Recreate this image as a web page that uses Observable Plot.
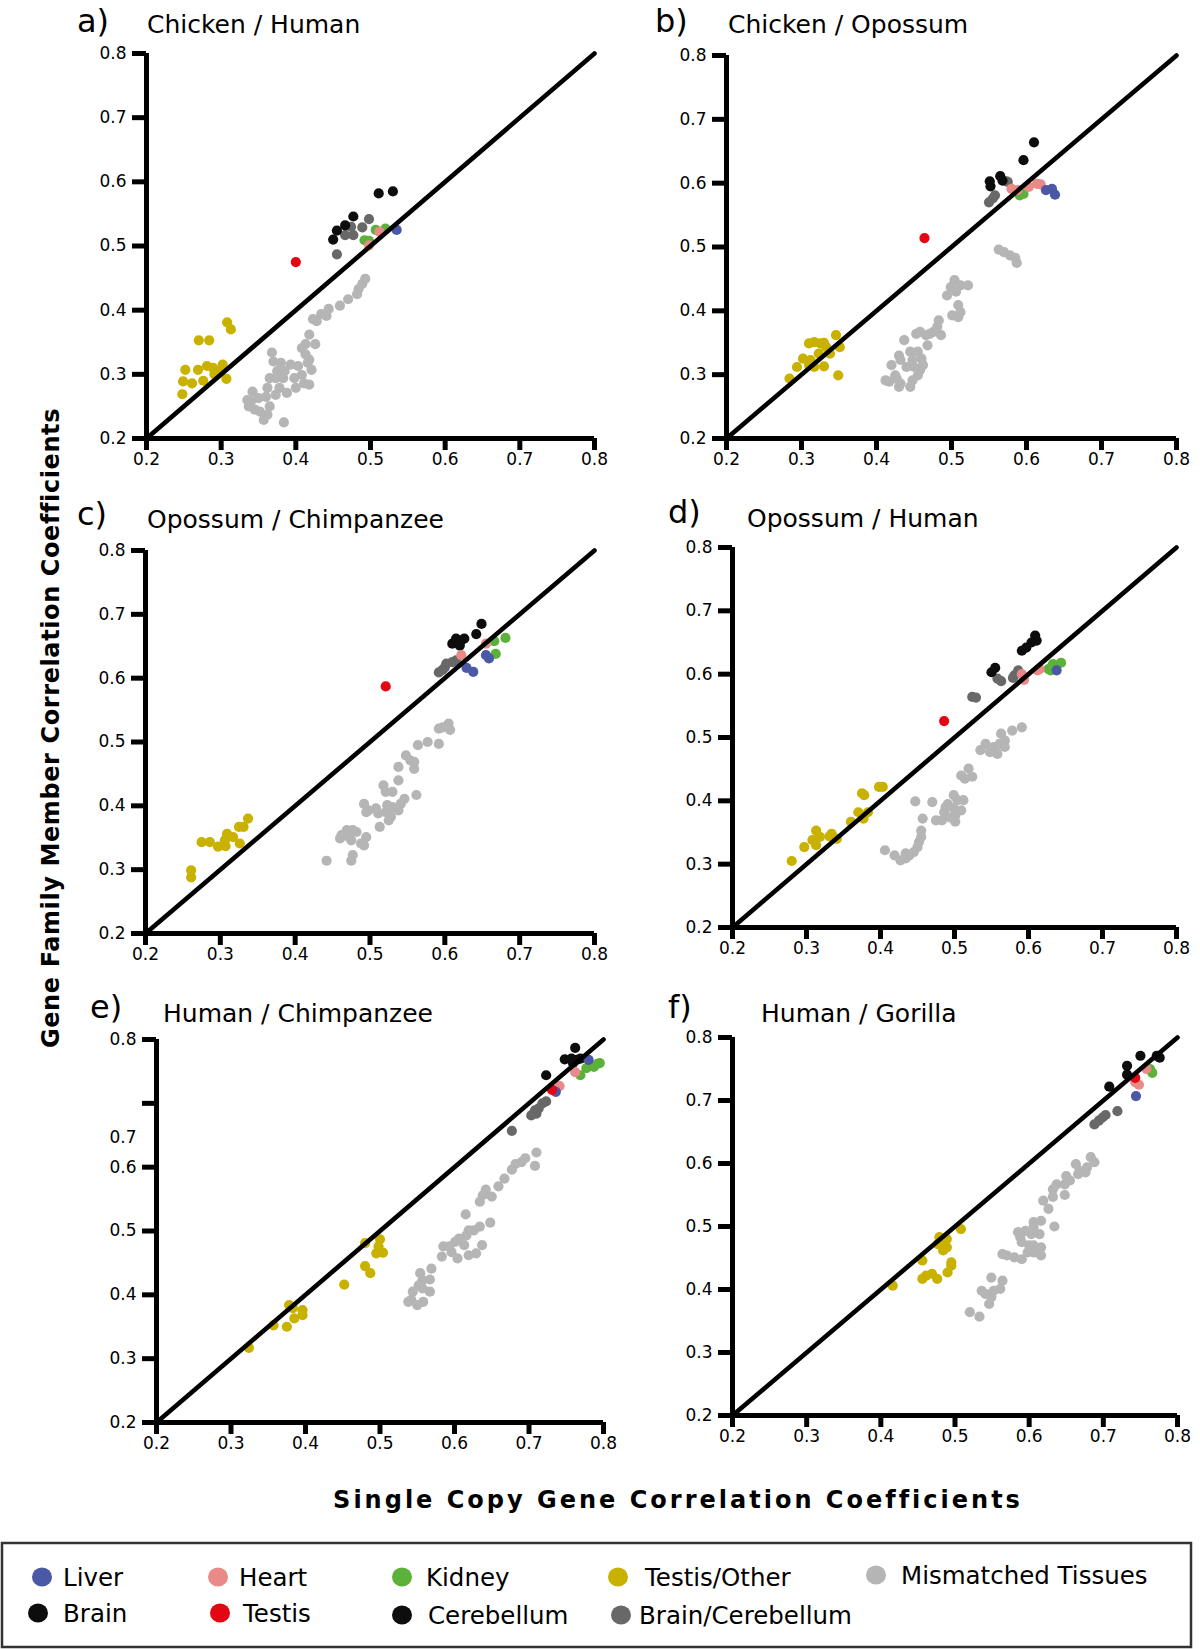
<!DOCTYPE html>
<html><head><meta charset="utf-8">
<script src="https://cdn.jsdelivr.net/npm/d3@7"></script>
<script src="https://cdn.jsdelivr.net/npm/@observablehq/plot@0.6"></script>
<style>
html,body{margin:0;padding:0;background:#fff}
body{width:1200px;height:1649px;position:relative;overflow:hidden;font-family:"DejaVu Sans",sans-serif}
svg.overlay{position:absolute;left:0;top:0}
</style></head><body>
<script>
// ---------- DATA ----------
const categories = ["Liver","Heart","Kidney","Testis/Other","Mismatched Tissues","Brain","Testis","Cerebellum","Brain/Cerebellum"];
const categoryColors = ["#4a58a6","#e98a88","#5bb13a","#c9b100","#b5b5b5","#0d0d0d","#e30613","#0d0d0d","#686868"];
const drawOrder = ["Mismatched Tissues","Testis/Other","Brain/Cerebellum","Brain","Cerebellum","Kidney","Heart","Liver","Testis"];
const axisDomain = [0.2, 0.8];
const tickValues = [0.2,0.3,0.4,0.5,0.6,0.7,0.8];
const panelLetters = ["a)","b)","c)","d)","e)","f)"];
const panelTitles = ["Chicken / Human","Chicken / Opossum","Opossum / Chimpanzee","Opossum / Human","Human / Chimpanzee","Human / Gorilla"];
// panel e: its "0.7" y label sits off its tick in the original
const eShiftedYLabels = [{value:0.646, label:"0.7"}];
const eHiddenYLabels = [0.7];

// a) Chicken / Human
const aMismatched = [[0.493,0.449],[0.489,0.441],[0.484,0.433],[0.482,0.425],[0.470,0.417],[0.459,0.407],[0.444,0.402],[0.441,0.391],[0.434,0.394],[0.428,0.383],[0.423,0.386],[0.418,0.362],[0.413,0.347],[0.426,0.347],[0.408,0.341],[0.413,0.331],[0.418,0.323],[0.421,0.307],[0.418,0.284],[0.408,0.299],[0.403,0.313],[0.398,0.294],[0.393,0.315],[0.385,0.305],[0.383,0.294],[0.380,0.318],[0.375,0.305],[0.373,0.294],[0.370,0.320],[0.368,0.334],[0.365,0.294],[0.388,0.271],[0.378,0.279],[0.373,0.268],[0.362,0.279],[0.360,0.265],[0.365,0.250],[0.362,0.237],[0.357,0.229],[0.350,0.263],[0.342,0.273],[0.340,0.258],[0.337,0.250],[0.335,0.260],[0.345,0.245],[0.352,0.242],[0.384,0.225],[0.400,0.279],[0.411,0.286],[0.416,0.318]];
const aTestisOther = [[0.308,0.381],[0.313,0.370],[0.270,0.353],[0.284,0.353],[0.252,0.307],[0.249,0.289],[0.248,0.269],[0.261,0.286],[0.269,0.307],[0.276,0.290],[0.281,0.313],[0.289,0.310],[0.296,0.305],[0.302,0.315],[0.307,0.293],[0.291,0.300]];
const aBrainCerebellum = [[0.455,0.487],[0.466,0.517],[0.474,0.530],[0.477,0.517],[0.489,0.529],[0.498,0.542]];
const aBrain = [[0.511,0.582],[0.530,0.585],[0.477,0.546],[0.455,0.524],[0.450,0.510],[0.466,0.532]];
const aKidney = [[0.492,0.509],[0.498,0.508],[0.507,0.525],[0.520,0.527]];
const aHeart = [[0.498,0.501],[0.512,0.522]];
const aLiver = [[0.535,0.525]];
const aTestis = [[0.400,0.475]];

// b) Chicken / Opossum
const bMismatched = [[0.563,0.496],[0.570,0.492],[0.578,0.487],[0.585,0.483],[0.587,0.475],[0.504,0.448],[0.499,0.437],[0.512,0.440],[0.522,0.440],[0.494,0.424],[0.506,0.430],[0.509,0.409],[0.512,0.398],[0.501,0.393],[0.509,0.390],[0.483,0.385],[0.481,0.375],[0.476,0.367],[0.486,0.362],[0.471,0.364],[0.458,0.367],[0.453,0.364],[0.466,0.362],[0.468,0.346],[0.437,0.354],[0.455,0.336],[0.445,0.336],[0.460,0.325],[0.462,0.315],[0.458,0.307],[0.455,0.299],[0.448,0.323],[0.430,0.330],[0.432,0.323],[0.440,0.312],[0.420,0.315],[0.417,0.289],[0.427,0.294],[0.425,0.299],[0.432,0.286],[0.430,0.281],[0.445,0.281],[0.448,0.291],[0.412,0.291],[0.450,0.312]];
const bTestisOther = [[0.346,0.362],[0.351,0.343],[0.310,0.349],[0.317,0.351],[0.325,0.349],[0.330,0.350],[0.338,0.333],[0.302,0.325],[0.312,0.323],[0.294,0.312],[0.310,0.315],[0.317,0.312],[0.330,0.313],[0.284,0.294],[0.349,0.299],[0.323,0.333],[0.333,0.343]];
const bBrainCerebellum = [[0.573,0.603],[0.558,0.581],[0.555,0.576],[0.550,0.570],[0.575,0.602]];
const bBrain = [[0.610,0.664],[0.596,0.636],[0.565,0.611],[0.568,0.604],[0.551,0.603],[0.552,0.595]];
const bKidney = [[0.591,0.581],[0.596,0.583]];
const bHeart = [[0.580,0.591],[0.588,0.589],[0.603,0.594],[0.619,0.598],[0.614,0.599]];
const bLiver = [[0.626,0.589],[0.634,0.591],[0.638,0.582]];
const bTestis = [[0.464,0.514]];

// c) Opossum / Chimpanzee
const cMismatched = [[0.605,0.529],[0.607,0.519],[0.592,0.521],[0.597,0.523],[0.592,0.497],[0.577,0.500],[0.564,0.495],[0.559,0.469],[0.548,0.479],[0.554,0.471],[0.559,0.458],[0.538,0.461],[0.538,0.440],[0.530,0.422],[0.518,0.432],[0.521,0.422],[0.562,0.417],[0.546,0.411],[0.541,0.403],[0.538,0.393],[0.530,0.398],[0.523,0.401],[0.521,0.390],[0.511,0.388],[0.508,0.396],[0.498,0.393],[0.492,0.403],[0.495,0.390],[0.528,0.383],[0.525,0.377],[0.513,0.367],[0.495,0.351],[0.488,0.341],[0.492,0.338],[0.477,0.362],[0.469,0.362],[0.472,0.351],[0.460,0.349],[0.475,0.346],[0.477,0.323],[0.475,0.314],[0.442,0.314],[0.462,0.354],[0.482,0.359]];
const cTestisOther = [[0.337,0.380],[0.331,0.367],[0.325,0.367],[0.326,0.341],[0.309,0.356],[0.306,0.346],[0.307,0.337],[0.297,0.336],[0.286,0.343],[0.275,0.343],[0.261,0.299],[0.261,0.288],[0.317,0.351]];
const cBrainCerebellum = [[0.592,0.609],[0.600,0.617],[0.602,0.623],[0.610,0.625],[0.615,0.628],[0.597,0.613]];
const cBrain = [[0.649,0.685],[0.642,0.669],[0.615,0.662],[0.610,0.654],[0.622,0.659],[0.626,0.662],[0.620,0.651]];
const cKidney = [[0.666,0.658],[0.681,0.663],[0.668,0.638]];
const cHeart = [[0.622,0.636],[0.655,0.654]];
const cLiver = [[0.629,0.616],[0.638,0.610],[0.655,0.636],[0.659,0.631]];
const cTestis = [[0.521,0.587]];

// d) Opossum / Human
const dMismatched = [[0.591,0.516],[0.578,0.511],[0.563,0.506],[0.568,0.495],[0.561,0.490],[0.568,0.485],[0.553,0.485],[0.542,0.490],[0.535,0.480],[0.558,0.474],[0.548,0.477],[0.519,0.451],[0.524,0.438],[0.509,0.440],[0.514,0.435],[0.512,0.401],[0.499,0.409],[0.504,0.401],[0.491,0.395],[0.499,0.388],[0.509,0.385],[0.501,0.377],[0.494,0.374],[0.501,0.367],[0.486,0.382],[0.475,0.369],[0.483,0.369],[0.470,0.398],[0.488,0.390],[0.447,0.399],[0.457,0.372],[0.455,0.353],[0.455,0.343],[0.452,0.335],[0.450,0.327],[0.445,0.319],[0.439,0.314],[0.434,0.309],[0.427,0.306],[0.419,0.314],[0.406,0.322],[0.434,0.317]];
const dTestisOther = [[0.403,0.422],[0.398,0.422],[0.375,0.412],[0.378,0.409],[0.370,0.382],[0.383,0.382],[0.377,0.372],[0.360,0.367],[0.334,0.348],[0.331,0.344],[0.341,0.340],[0.313,0.353],[0.308,0.338],[0.318,0.343],[0.313,0.330],[0.297,0.327],[0.280,0.305]];
const dBrainCerebellum = [[0.586,0.606],[0.581,0.598],[0.579,0.594],[0.558,0.593],[0.563,0.589],[0.524,0.564],[0.529,0.563]];
const dBrain = [[0.609,0.661],[0.611,0.653],[0.604,0.650],[0.597,0.642],[0.591,0.637],[0.555,0.610],[0.550,0.603]];
const dKidney = [[0.627,0.608],[0.633,0.616],[0.638,0.614],[0.644,0.618],[0.630,0.606]];
const dHeart = [[0.591,0.600],[0.594,0.591],[0.615,0.608],[0.612,0.606]];
const dLiver = [[0.638,0.606]];
const dTestis = [[0.486,0.526]];

// e) Human / Chimpanzee
const eMismatched = [[0.710,0.623],[0.708,0.602],[0.695,0.614],[0.690,0.608],[0.682,0.605],[0.677,0.596],[0.667,0.582],[0.659,0.570],[0.650,0.554],[0.642,0.565],[0.638,0.556],[0.634,0.546],[0.615,0.526],[0.648,0.513],[0.634,0.507],[0.626,0.501],[0.619,0.501],[0.616,0.493],[0.606,0.488],[0.601,0.483],[0.593,0.476],[0.585,0.476],[0.596,0.467],[0.604,0.457],[0.583,0.460],[0.613,0.478],[0.629,0.465],[0.637,0.478],[0.619,0.462],[0.569,0.441],[0.554,0.434],[0.567,0.424],[0.557,0.423],[0.552,0.415],[0.567,0.405],[0.557,0.410],[0.544,0.405],[0.542,0.392],[0.538,0.389],[0.550,0.384],[0.558,0.389]];
const eTestisOther = [[0.500,0.487],[0.498,0.476],[0.504,0.466],[0.495,0.465],[0.480,0.481],[0.480,0.445],[0.487,0.434],[0.452,0.416],[0.396,0.376],[0.396,0.368],[0.385,0.363],[0.378,0.384],[0.375,0.350],[0.357,0.352],[0.324,0.317],[0.383,0.379]];
const eBrainCerebellum = [[0.677,0.657],[0.703,0.681],[0.710,0.684],[0.713,0.692],[0.718,0.700],[0.723,0.703],[0.708,0.689]];
const eBrain = [[0.762,0.787],[0.748,0.769],[0.757,0.770],[0.764,0.768],[0.769,0.770],[0.723,0.744],[0.759,0.763]];
const eKidney = [[0.769,0.744],[0.777,0.755],[0.787,0.757],[0.792,0.762],[0.795,0.763]];
const eHeart = [[0.762,0.749],[0.741,0.727]];
const eLiver = [[0.780,0.768],[0.736,0.718]];
const eTestis = [[0.731,0.721]];

// f) Human / Gorilla
const fMismatched = [[0.683,0.610],[0.688,0.602],[0.678,0.594],[0.676,0.586],[0.668,0.588],[0.663,0.599],[0.666,0.583],[0.650,0.580],[0.655,0.573],[0.648,0.567],[0.637,0.567],[0.632,0.559],[0.648,0.550],[0.632,0.547],[0.619,0.541],[0.626,0.528],[0.634,0.500],[0.616,0.509],[0.606,0.507],[0.606,0.499],[0.614,0.488],[0.603,0.488],[0.595,0.493],[0.585,0.491],[0.588,0.483],[0.590,0.475],[0.600,0.470],[0.606,0.470],[0.616,0.467],[0.616,0.454],[0.606,0.459],[0.598,0.459],[0.590,0.448],[0.570,0.454],[0.564,0.456],[0.580,0.451],[0.564,0.414],[0.561,0.401],[0.549,0.419],[0.552,0.398],[0.549,0.388],[0.546,0.377],[0.536,0.398],[0.541,0.393],[0.520,0.364],[0.533,0.357]];
const fTestisOther = [[0.508,0.496],[0.479,0.483],[0.489,0.480],[0.477,0.472],[0.484,0.462],[0.489,0.467],[0.456,0.446],[0.495,0.443],[0.495,0.438],[0.490,0.427],[0.469,0.425],[0.456,0.417],[0.461,0.422],[0.476,0.417],[0.416,0.406],[0.487,0.478]];
const fBrainCerebellum = [[0.688,0.662],[0.694,0.668],[0.699,0.673],[0.703,0.677],[0.719,0.683]];
const fBrain = [[0.750,0.771],[0.776,0.768],[0.772,0.771],[0.732,0.755],[0.732,0.741],[0.708,0.722]];
const fKidney = [[0.763,0.750],[0.766,0.744]];
const fHeart = [[0.748,0.725],[0.743,0.729],[0.758,0.750]];
const fLiver = [[0.744,0.707]];
const fTestis = [[0.743,0.736]];

// ---------- TABLES ----------
const panelSeries = [
  {"Mismatched Tissues":aMismatched,"Testis/Other":aTestisOther,"Brain/Cerebellum":aBrainCerebellum,"Brain":aBrain,"Kidney":aKidney,"Heart":aHeart,"Liver":aLiver,"Testis":aTestis},
  {"Mismatched Tissues":bMismatched,"Testis/Other":bTestisOther,"Brain/Cerebellum":bBrainCerebellum,"Brain":bBrain,"Kidney":bKidney,"Heart":bHeart,"Liver":bLiver,"Testis":bTestis},
  {"Mismatched Tissues":cMismatched,"Testis/Other":cTestisOther,"Brain/Cerebellum":cBrainCerebellum,"Brain":cBrain,"Kidney":cKidney,"Heart":cHeart,"Liver":cLiver,"Testis":cTestis},
  {"Mismatched Tissues":dMismatched,"Testis/Other":dTestisOther,"Brain/Cerebellum":dBrainCerebellum,"Brain":dBrain,"Kidney":dKidney,"Heart":dHeart,"Liver":dLiver,"Testis":dTestis},
  {"Mismatched Tissues":eMismatched,"Testis/Other":eTestisOther,"Brain/Cerebellum":eBrainCerebellum,"Brain":eBrain,"Kidney":eKidney,"Heart":eHeart,"Liver":eLiver,"Testis":eTestis},
  {"Mismatched Tissues":fMismatched,"Testis/Other":fTestisOther,"Brain/Cerebellum":fBrainCerebellum,"Brain":fBrain,"Kidney":fKidney,"Heart":fHeart,"Liver":fLiver,"Testis":fTestis}
];

// ---------- LAYOUT (page pixels) ----------
const boxes = [
  {x0:146,x1:594,y0:53,y1:438, lx:77, ly:32, tx:147, ty:33},
  {x0:726,x1:1176,y0:55,y1:438, lx:655, ly:32, tx:728, ty:33},
  {x0:145,x1:594,y0:550,y1:933, lx:77, ly:525, tx:147, ty:528},
  {x0:732,x1:1176,y0:547,y1:927, lx:668, ly:523, tx:747, ty:527},
  {x0:156,x1:603,y0:1039,y1:1422, lx:90, ly:1018, tx:163, ty:1022},
  {x0:732,x1:1177,y0:1037,y1:1415, lx:668, ly:1018, tx:761, ty:1022}
];

const fmt = d3.format(".1f");
const TICK_FONT = 17;

boxes.forEach((box, i) => {
  const series = panelSeries[i];
  const rows = [];
  drawOrder.forEach(cat => (series[cat] || []).forEach(p => rows.push({x:p[0], y:p[1], cat})));
  const ml = 70, mr = 18, mt = 14, mb = 40;
  const isE = i === 4;
  const yFmt = d => (isE && eHiddenYLabels.some(h => Math.abs(h - d) < 1e-9)) ? "" : fmt(d);
  const marks = [
    Plot.dot(rows, {x:"x", y:"y", r:5.1, fill:"cat"}),
    Plot.line(axisDomain, {x:d=>d, y:d=>d, stroke:"#000", strokeWidth:4.6}),
    Plot.ruleX([axisDomain[0]], {x:d=>d, y1:()=>axisDomain[0], y2:()=>axisDomain[1], stroke:"#000", strokeWidth:5}),
    Plot.ruleY([axisDomain[0]], {y:d=>d, x1:()=>axisDomain[0], x2:()=>axisDomain[1], stroke:"#000", strokeWidth:5}),
    Plot.axisX({ticks:tickValues, tickFormat:fmt, tickSize:12, tickPadding:2, strokeWidth:5, label:null, fontSize:TICK_FONT}),
    Plot.axisY({ticks:tickValues, tickFormat:yFmt, tickSize:14, tickPadding:6, strokeWidth:5, label:null, fontSize:TICK_FONT})
  ];
  if (isE) marks.push(Plot.text(eShiftedYLabels, {x:()=>axisDomain[0], y:"value", text:"label", textAnchor:"end", dx:-20, fontSize:TICK_FONT, fill:"#000"}));
  const chart = Plot.plot({
    width: box.x1 - box.x0 + ml + mr,
    height: box.y1 - box.y0 + mt + mb,
    marginLeft: ml, marginRight: mr, marginTop: mt, marginBottom: mb,
    x: {domain: axisDomain},
    y: {domain: axisDomain},
    color: {domain: categories, range: categoryColors},
    style: {fontFamily:"'DejaVu Sans', sans-serif", fontSize:TICK_FONT+"px", color:"#000", background:"transparent", overflow:"visible"},
    marks
  });
  chart.style.position = "absolute";
  chart.style.left = (box.x0 - ml) + "px";
  chart.style.top = (box.y0 - mt) + "px";
  document.body.appendChild(chart);
});

// ---------- OVERLAY: titles, axis titles, legend ----------
const svg = d3.select(document.body).append("svg").attr("class","overlay")
  .attr("width",1200).attr("height",1649).style("pointer-events","none");

boxes.forEach((box,i) => {
  svg.append("text").attr("x",box.lx).attr("y",box.ly).attr("font-family","DejaVu Sans").attr("font-size",32).attr("fill","#000").text(panelLetters[i]);
  svg.append("text").attr("x",box.tx).attr("y",box.ty).attr("font-family","DejaVu Sans").attr("font-size",25).attr("fill","#000").text(panelTitles[i]);
});

svg.append("text").attr("transform","translate(59,728) rotate(-90)").attr("text-anchor","middle")
  .attr("font-family","DejaVu Sans").attr("font-weight","bold").attr("font-size",24).attr("letter-spacing",0.6)
  .text("Gene Family Member Correlation Coefficients");
svg.append("text").attr("x",678).attr("y",1508).attr("text-anchor","middle")
  .attr("font-family","DejaVu Sans").attr("font-weight","bold").attr("font-size",24).attr("letter-spacing",3)
  .text("Single Copy Gene Correlation Coefficients");

// legend
const legendItems = [
  {cat:"Liver", dx:42, tx:63, cy:1577},
  {cat:"Heart", dx:218, tx:239, cy:1577},
  {cat:"Kidney", dx:402, tx:426, cy:1577},
  {cat:"Testis/Other", dx:618, tx:645, cy:1577},
  {cat:"Mismatched Tissues", dx:876, tx:901, cy:1575},
  {cat:"Brain", dx:38, tx:63, cy:1613},
  {cat:"Testis", dx:220, tx:243, cy:1613},
  {cat:"Cerebellum", dx:402, tx:428, cy:1615},
  {cat:"Brain/Cerebellum", dx:621, tx:639, cy:1615}
];
const colorOf = new Map(categories.map((c,i)=>[c,categoryColors[i]]));
svg.append("rect").attr("x",2).attr("y",1543).attr("width",1189).attr("height",104)
  .attr("fill","none").attr("stroke","#333").attr("stroke-width",2.5);
legendItems.forEach(it => {
  svg.append("ellipse").attr("cx",it.dx).attr("cy",it.cy).attr("rx",10).attr("ry",9.5).attr("fill",colorOf.get(it.cat));
  svg.append("text").attr("x",it.tx).attr("y",it.cy+8.5).attr("font-family","DejaVu Sans").attr("font-size",24.5).attr("fill","#000").text(it.cat);
});
</script>
</body></html>
